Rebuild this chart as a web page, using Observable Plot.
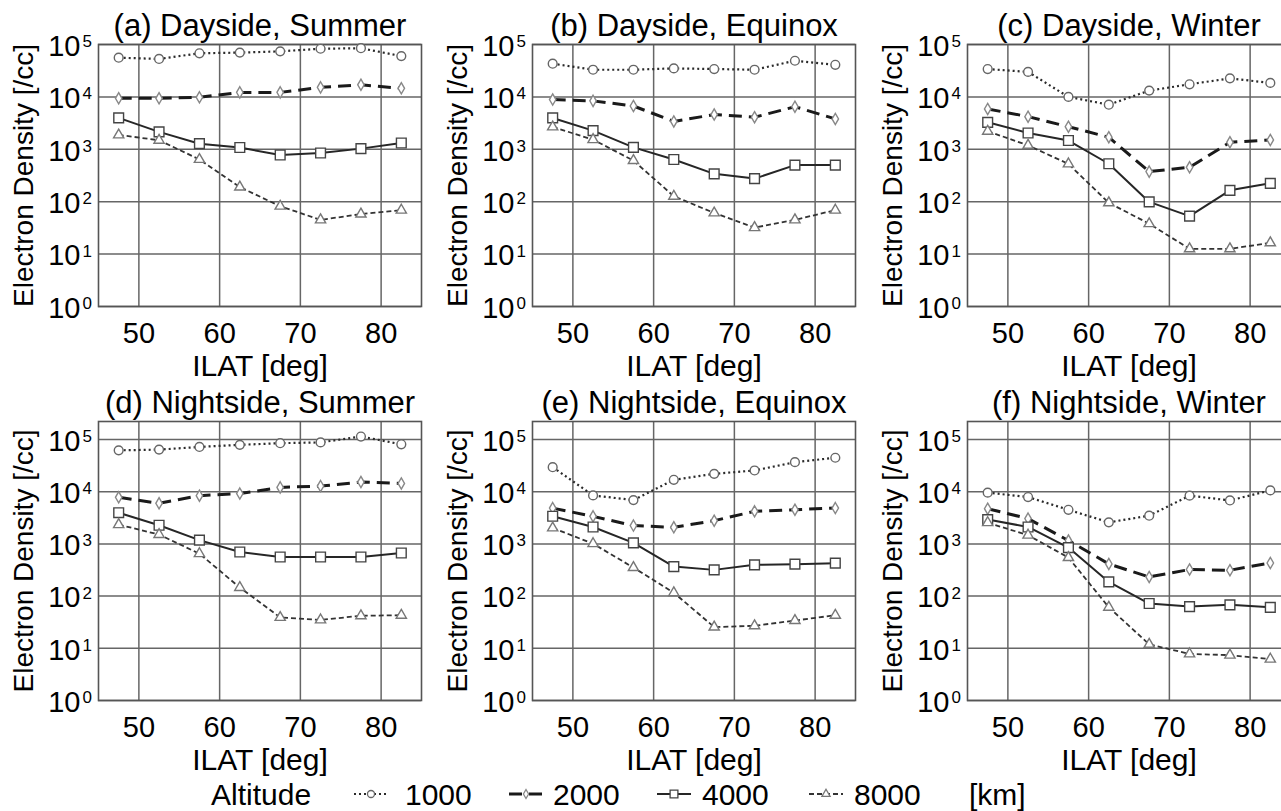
<!DOCTYPE html>
<html>
<head>
<meta charset="utf-8">
<script src="https://cdn.jsdelivr.net/npm/d3@7"></script>
<script src="https://cdn.jsdelivr.net/npm/@observablehq/plot@0.6"></script>
<style>
  html, body { margin: 0; padding: 0; background: #fff; }
  #root { position: relative; width: 1281px; height: 811px; overflow: hidden; background: #fff;
          font-family: "Liberation Sans", Arial, sans-serif; }
  .panel { position: absolute; }
  .panel svg { max-width: none !important; display: block; }
</style>
</head>
<body>
<div id="root"></div>
<script>
// ---------- data ----------
const ilat = [47.5, 52.5, 57.5, 62.5, 67.5, 72.5, 77.5, 82.5];
const altitudes = [1000, 2000, 4000, 8000];
const xTicks = [50, 60, 70, 80];
const yTicks = [1, 10, 100, 1000, 10000, 100000];
const panelTitles = [
  "(a) Dayside, Summer", "(b) Dayside, Equinox", "(c) Dayside, Winter",
  "(d) Nightside, Summer", "(e) Nightside, Equinox", "(f) Nightside, Winter"
];
// rows: 1000, 2000, 4000, 8000 km
const daysideSummer = [
  [56000, 53000, 68000, 70000, 74000, 83000, 85000, 60000],
  [9400, 9400, 9800, 12200, 12200, 15200, 17000, 14600],
  [3980, 2150, 1280, 1080, 780, 850, 1030, 1320],
  [1880, 1490, 640, 190, 82, 45, 58, 69]
];
const daysideEquinox = [
  [43000, 33000, 33000, 35000, 34000, 33000, 49000, 41000],
  [8900, 8400, 6700, 3400, 4600, 4100, 6500, 3800],
  [3970, 2270, 1090, 640, 340, 276, 500, 500],
  [2670, 1530, 610, 127, 61, 32, 45, 69]
];
const daysideWinter = [
  [34000, 30000, 10000, 7100, 13200, 17400, 22600, 18500],
  [5900, 4200, 2700, 1700, 375, 453, 1360, 1510],
  [3270, 2050, 1470, 530, 99, 53, 165, 224],
  [2210, 1190, 526, 95, 38, 12.6, 12.6, 16.4]
];
const nightsideSummer = [
  [62000, 64000, 72000, 79000, 85000, 88000, 114000, 81000],
  [7800, 6000, 8400, 9200, 12100, 12800, 15300, 14400],
  [3960, 2280, 1180, 700, 560, 560, 560, 670],
  [2340, 1510, 650, 146, 39, 35, 42, 43]
];
const nightsideEquinox = [
  [29500, 8500, 6900, 16900, 22000, 25500, 36800, 44700],
  [4850, 3370, 2240, 2080, 2790, 4200, 4530, 4850],
  [3390, 2110, 1045, 368, 318, 397, 409, 428],
  [2020, 1010, 352, 116, 25.5, 27, 34, 43]
];
const nightsideWinter = [
  [9600, 7900, 4500, 2590, 3470, 8400, 6800, 10600],
  [4730, 3050, 1160, 413, 233, 323, 313, 431],
  [2920, 2110, 850, 187, 72, 63, 68, 61],
  [2550, 1470, 547, 61, 11.9, 7.8, 7.4, 6.2]
];
const panelSeries = [daysideSummer, daysideEquinox, daysideWinter,
                     nightsideSummer, nightsideEquinox, nightsideWinter];

// ---------- styles ----------
const FONT = '"Liberation Sans", Arial, sans-serif';
const seriesStyle = {
  1000: {stroke: "#2a2a2a", strokeWidth: 2.2, dash: "2,3", symbol: "circle", r: 4.4, dotStroke: "#666"},
  2000: {stroke: "#1a1a1a", strokeWidth: 3, dash: "13,7", symbol: "diamond", r: 3.4, dotStroke: "#888"},
  4000: {stroke: "#262626", strokeWidth: 2, dash: null, symbol: "square", r: 5.5, dotStroke: "#444"},
  8000: {stroke: "#333", strokeWidth: 1.8, dash: "5,3", symbol: "triangle", r: 3.8, dotStroke: "#777"}
};
const colLeft = [98, 532, 967];
const MARGIN_LEFT = 98, FRAME_W = 323, MARGIN_RIGHT = 9;

function makePanel(idx) {
  const row = Math.floor(idx / 3), col = idx % 3;
  const series = panelSeries[idx];
  const data = altitudes.flatMap((alt, i) => ilat.map((x, j) => ({ilat: x, density: series[i][j], alt})));
  const top = row === 0;
  const marginTop = top ? 44 : 41;
  const frameH = top ? 262 : 279;
  const yMax = top ? 1e5 : Math.pow(10, 5 + 18 / 52.2);
  const marks = [
    Plot.gridX({ticks: xTicks, stroke: "#666", strokeOpacity: 1, strokeWidth: 1.5}),
    Plot.gridY({ticks: yTicks, stroke: "#666", strokeOpacity: 1, strokeWidth: 1.5}),
    Plot.frame({stroke: "#555", strokeWidth: 1.6})
  ];
  for (const alt of altitudes) {
    const s = seriesStyle[alt];
    marks.push(Plot.line(data.filter(d => d.alt === alt), {
      x: "ilat", y: "density", stroke: s.stroke, strokeWidth: s.strokeWidth,
      strokeDasharray: s.dash || undefined, strokeLinecap: "butt"
    }));
  }
  for (const alt of altitudes) {
    const s = seriesStyle[alt];
    marks.push(Plot.dot(data.filter(d => d.alt === alt), {
      x: "ilat", y: "density", symbol: () => s.symbol, r: s.r,
      fill: "white", stroke: s.dotStroke, strokeWidth: 1.4
    }));
  }
  marks.push(
    Plot.axisX({ticks: xTicks, tickSize: 0, tickPadding: 16, label: null, fontSize: 29, fill: "black"}),
    Plot.text(yTicks, {y: d => d, frameAnchor: "left", text: () => "10", textAnchor: "end",
      lineAnchor: "middle", dx: -18, dy: 2, fontSize: 29, fill: "black"}),
    Plot.text(yTicks, {y: d => d, frameAnchor: "left", text: d => String(Math.round(Math.log10(d))),
      textAnchor: "start", lineAnchor: "middle", dx: -16, dy: -3, fontSize: 17, fill: "black"}),
    Plot.text([panelTitles[idx]], {text: d => d, frameAnchor: "top", textAnchor: "middle",
      lineAnchor: "middle", dy: -18, fontSize: 31, fill: "black"}),
    Plot.text(["Electron Density [/cc]"], {text: d => d, frameAnchor: "left", textAnchor: "middle",
      lineAnchor: "middle", dx: -74, rotate: -90, fontSize: 28, fill: "black"}),
    Plot.text(["ILAT [deg]"], {text: d => d, frameAnchor: "bottom", textAnchor: "middle",
      lineAnchor: "middle", dy: 60, fontSize: 30, fill: "black"})
  );
  const width = MARGIN_LEFT + FRAME_W + MARGIN_RIGHT;
  const height = marginTop + frameH + 70;
  const svg = Plot.plot({
    width, height,
    marginLeft: MARGIN_LEFT, marginRight: MARGIN_RIGHT, marginTop, marginBottom: 70,
    style: {fontFamily: FONT, background: "transparent", overflow: "visible", maxWidth: "none"},
    x: {domain: [45, 85]},
    y: {type: "log", domain: [1, yMax], axis: null},
    marks
  });
  const wrap = document.createElement("div");
  wrap.className = "panel";
  wrap.style.left = (colLeft[col] - MARGIN_LEFT) + "px";
  wrap.style.top = (top ? 0 : 380) + "px";
  wrap.style.width = width + "px";
  wrap.style.height = height + "px";
  wrap.appendChild(svg);
  document.getElementById("root").appendChild(wrap);
}
for (let i = 0; i < 6; i++) makePanel(i);

// ---------- legend ----------
const legendLabels = ["1000", "2000", "4000", "8000"];
(function legend() {
  const svg = d3.select("#root").append("svg")
    .attr("width", 1281).attr("height", 40)
    .style("position", "absolute").style("left", "0px").style("top", "775px")
    .style("font-family", FONT);
  const baseY = 30, midY = 19;
  svg.append("text").attr("x", 211).attr("y", baseY).attr("font-size", 30).text("Altitude");
  const symX = [354, 509, 657, 809];
  const txtX = [405, 553, 702, 854];
  const symMap = {circle: d3.symbolCircle, diamond: d3.symbolDiamond, square: d3.symbolSquare, triangle: d3.symbolTriangle};
  altitudes.forEach((alt, i) => {
    const s = seriesStyle[alt];
    svg.append("line").attr("x1", symX[i]).attr("x2", symX[i] + 34).attr("y1", midY).attr("y2", midY)
      .attr("stroke", s.stroke).attr("stroke-width", s.strokeWidth)
      .attr("stroke-dasharray", s.dash || null);
    svg.append("path").attr("transform", `translate(${symX[i] + 17},${midY})`)
      .attr("d", d3.symbol(symMap[s.symbol], Math.PI * (s.r * 0.8) ** 2)())
      .attr("fill", "white").attr("stroke", s.dotStroke).attr("stroke-width", 1.3);
    svg.append("text").attr("x", txtX[i]).attr("y", baseY).attr("font-size", 30).text(legendLabels[i]);
  });
  svg.append("text").attr("x", 969).attr("y", baseY).attr("font-size", 30).text("[km]");
})();
</script>
</body>
</html>
